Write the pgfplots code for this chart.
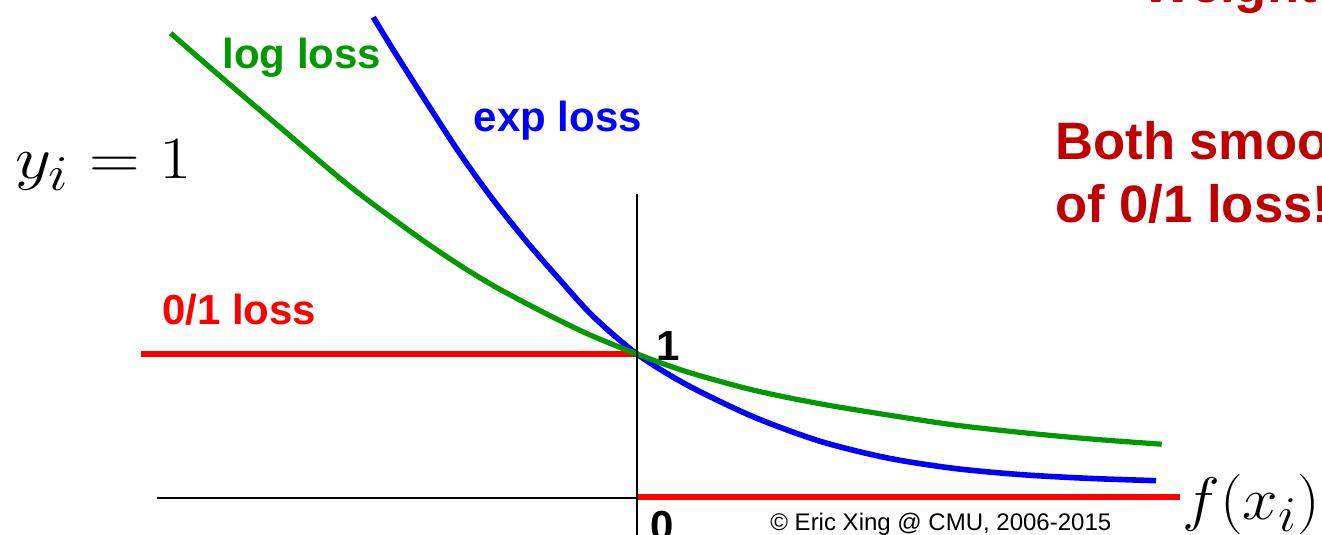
\documentclass[border=0pt]{standalone}
\usepackage{graphicx}
\usepackage{fontspec}
\newfontfamily\arial{Liberation Sans}
\usepackage{pgfplots}
\pgfplotsset{compat=1.18}
\definecolor{lossgreen}{RGB}{0,153,0}
\definecolor{lossblue}{RGB}{0,0,255}
\definecolor{lossred}{RGB}{255,0,0}
\definecolor{darkred}{RGB}{192,0,0}
\begin{document}
\begin{tikzpicture}
\useasboundingbox (0,0) rectangle (661pt,267.5pt);
\clip (0,0) rectangle (661pt,267.5pt);
\begin{axis}[
  at={(0,0)}, anchor=south west,
  scale only axis, width=661pt, height=267.5pt,
  xmin=-6.37, xmax=6.85, ymin=-0.2657, ymax=3.4755,
  hide axis, clip=false,
]
% axes
\addplot[black, line width=1.4pt] coordinates {(-4.80,-0.007) (0,-0.007)};
% 0/1 loss
\addplot[lossred, line width=3pt] coordinates {(-4.96,0.997) (0,0.997)};
\addplot[lossred, line width=3pt] coordinates {(0,0.003) (5.43,0.003)};
% exp loss
\addplot[lossblue, line width=2.8pt, smooth] coordinates {
(-2.637,3.355) (-2.437,3.126) (-2.103,2.758) (-1.770,2.400) (-1.437,2.077)
(-1.103,1.785) (-0.770,1.517) (-0.437,1.262) (0,1.000) (0.497,0.785)
(1.160,0.562) (1.830,0.390) (2.497,0.274) (3.160,0.201) (3.830,0.157)
(4.497,0.131) (5.190,0.114)};
% log loss
\addplot[lossgreen, line width=2.6pt, smooth] coordinates {
(-4.663,3.243) (-4.203,2.963) (-3.537,2.566) (-2.870,2.172) (-2.203,1.825)
(-1.770,1.620) (-1.437,1.478) (-1.103,1.352) (-0.770,1.233) (-0.437,1.123)
(0,1.000) (0.497,0.876) (1.160,0.748) (1.830,0.652) (2.497,0.575)
(3.160,0.505) (3.830,0.452) (4.497,0.408) (5.247,0.369)};
\addplot[black, line width=1.4pt] coordinates {(0,2.119) (0,-0.2657)};
% labels
\node[anchor=base west, inner sep=0pt, text=lossgreen, font=\arial\bfseries\fontsize{21}{25}\selectfont] at (axis cs:-4.15,2.999) {log loss};
\node[anchor=base west, inner sep=0pt, text=lossblue, font=\arial\bfseries\fontsize{21}{25}\selectfont] at (axis cs:-1.637,2.559) {exp loss};
\node[anchor=base west, inner sep=0pt, text=lossred, font=\arial\bfseries\fontsize{21}{25}\selectfont] at (axis cs:-4.753,1.203) {0/1 loss};
\node[anchor=base west, inner sep=0pt] at (axis cs:-6.22,2.229) {\scalebox{1.41}[1.206]{\Huge $y_i = 1$}};
\node[anchor=base west, inner sep=0pt] at (axis cs:5.45,-0.154) {\scalebox{1.284}[1.206]{\Huge $f(x_i)$}};
\node[anchor=base west, inner sep=0pt, font=\arial\bfseries\fontsize{21}{25}\selectfont] at (axis cs:0.19,0.958) {1};
\node[anchor=base west, inner sep=0pt, font=\arial\bfseries\fontsize{21}{25}\selectfont] at (axis cs:0.13,-0.301) {0};
\node[anchor=base west, inner sep=0pt, font=\arial\fontsize{12}{14}\selectfont] at (axis cs:1.33,-0.231) {\textcopyright{} Eric Xing @ CMU, 2006-2015};
\node[anchor=base west, inner sep=0pt, text=darkred, font=\arial\bfseries\fontsize{26.3}{31}\selectfont] at (axis cs:4.18,2.362) {Both smooth approximations};
\node[anchor=base west, inner sep=0pt, text=darkred, font=\arial\bfseries\fontsize{26.3}{31}\selectfont] at (axis cs:4.18,1.918) {of 0/1 loss!};
\node[anchor=base west, inner sep=0pt, text=darkred, font=\arial\bfseries\fontsize{26.3}{31}\selectfont] at (axis cs:5.05,3.455) {Weighted};
\end{axis}
\end{tikzpicture}
\end{document}
